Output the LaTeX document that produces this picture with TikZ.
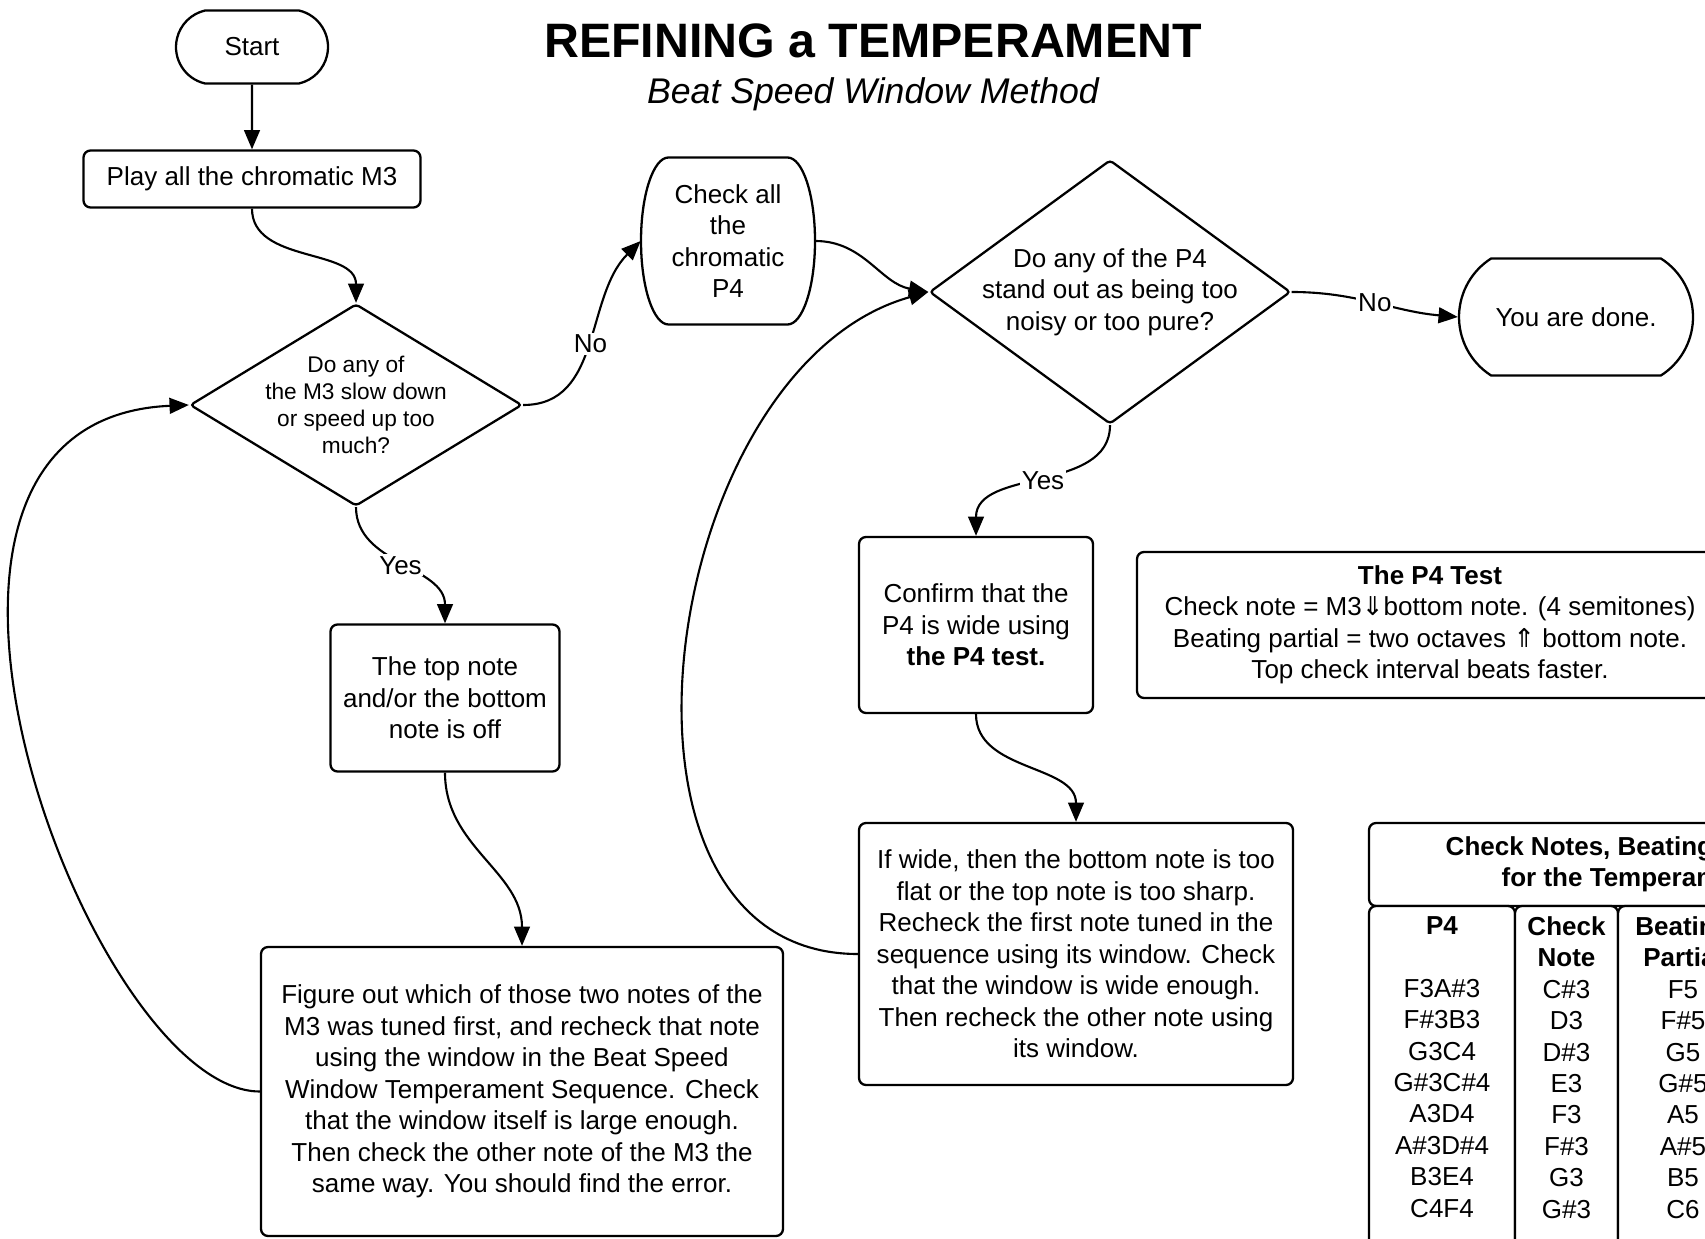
\documentclass[tikz,border=0pt]{standalone}
\usepackage{fontspec}
\setmainfont{Liberation Sans}
\newfontfamily\arrowfont{DejaVu Sans}
\usetikzlibrary{arrows.meta}
\usetikzlibrary{shapes.geometric}
\usetikzlibrary{shapes.misc}
\pgfdeclarelayer{edgelayer}
\pgfdeclarelayer{nodelayer}
\pgfsetlayers{edgelayer,nodelayer,main}
\tikzstyle{none}=[inner sep=0pt]
\tikzstyle{heading}=[inner sep=0pt,font=\fontsize{27.5}{33}\selectfont\bfseries]
\tikzstyle{subheading}=[inner sep=0pt,font=\fontsize{20.3}{24}\selectfont\itshape]
\tikzstyle{terminal}=[rounded rectangle,draw=black,fill=white,line width=1.3pt,inner xsep=0pt,align=center]
\tikzstyle{process}=[rectangle,rounded corners=4pt,draw=black,fill=white,line width=1.3pt,align=center]
\tikzstyle{outline}=[draw=black,fill=white,line width=1.3pt]
\tikzstyle{decision}=[diamond,rounded corners=2pt,draw=black,fill=white,line width=1.3pt,inner sep=-0.3cm,align=center]
\tikzstyle{cell}=[inner sep=0pt,align=center]
\tikzstyle{transition}=[-{Triangle[length=11pt,width=9pt]},draw=black,line width=1.2pt]
\tikzstyle{answer}=[fill=white,inner sep=1pt]

\begin{document}
\begin{tikzpicture}[font=\fontsize{14.8}{17.9}\selectfont]
	\useasboundingbox (0,0) rectangle (34.1,-24.78);
	\begin{pgfonlayer}{nodelayer}
		\node [style=heading] (0) at (17.46,-0.82) {REFINING a TEMPERAMENT};
		\node [style=subheading] (1) at (17.46,-1.88) {Beat Speed Window Method};
		\node [style=terminal, rounded rectangle arc length=154, minimum width=3.04cm, minimum height=1.46cm] (2) at (5.04,-0.94) {Start};
		\node [style=process, minimum width=6.74cm, minimum height=1.14cm] (3) at (5.04,-3.58) {Play all the chromatic M3};
		\node [style=decision, aspect=1.64, minimum width=6.64cm, minimum height=4.04cm, font=\fontsize{12.9}{15.4}\selectfont] (4) at (7.12,-8.10) {Do any of\\the M3 slow down\\or speed up too\\much?};
		\draw [style=outline] (13.37,-3.15) -- (15.75,-3.15) arc[start angle=90, end angle=-90, x radius=0.55cm, y radius=1.67cm] -- (13.37,-6.49) arc[start angle=270, end angle=90, x radius=0.55cm, y radius=1.67cm] -- cycle;
		\node [style=none, align=center, minimum width=3.48cm, minimum height=3.34cm] (5) at (14.56,-4.82) {Check all\\the\\chromatic\\P4};
		\node [style=decision, aspect=1.37, minimum width=7.22cm, minimum height=5.28cm] (6) at (22.20,-5.84) {Do any of the P4\\stand out as being too\\noisy or too pure?};
		\node [style=terminal, rounded rectangle arc length=115, minimum width=4.68cm, minimum height=2.34cm] (7) at (31.52,-6.34) {You are done.};
		\node [style=process, minimum width=4.68cm, minimum height=3.52cm] (8) at (19.52,-12.50) {Confirm that the\\P4 is wide using\\\textbf{the P4 test.}};
		\node [style=process, minimum width=11.72cm, minimum height=2.92cm] (9) at (28.60,-12.50) {\textbf{The P4 Test}\\Check note = M3{\arrowfont ⇓}bottom note. (4 semitones)\\Beating partial = two octaves {\arrowfont ⇑} bottom note.\\Top check interval beats faster.};
		\node [style=process, minimum width=4.58cm, minimum height=2.94cm] (10) at (8.90,-13.96) {The top note\\and/or the bottom\\note is off};
		\node [style=process, minimum width=8.68cm, minimum height=5.24cm] (11) at (21.52,-19.08) {If wide, then the bottom note is too\\flat or the top note is too sharp.\\Recheck the first note tuned in the\\sequence using its window. Check\\that the window is wide enough.\\Then recheck the other note using\\its window.};
		\node [style=process, minimum width=10.44cm, minimum height=5.78cm] (12) at (10.44,-21.83) {Figure out which of those two notes of the\\M3 was tuned first, and recheck that note\\using the window in the Beat Speed\\Window Temperament Sequence. Check\\that the window itself is large enough.\\Then check the other note of the M3 the\\same way. You should find the error.};
		\node [style=process, minimum width=10.44cm, minimum height=1.66cm, font=\fontsize{14.8}{17.9}\selectfont\bfseries] (13) at (32.60,-17.29) {Check Notes, Beating Partials\\for the Temperament};
		\node [style=process, minimum width=2.92cm, minimum height=7.68cm] (14) at (28.84,-21.96) {};
		\node [style=process, minimum width=2.06cm, minimum height=7.68cm] (15) at (31.33,-21.96) {};
		\node [style=process, minimum width=2.60cm, minimum height=7.68cm] (16) at (33.66,-21.96) {};
		\node [style=cell, anchor=north] (17) at (28.84,-18.32) {\textbf{P4}\\~\\F3A\#3\\F\#3B3\\G3C4\\G\#3C\#4\\A3D4\\A\#3D\#4\\B3E4\\C4F4};
		\node [style=cell, anchor=north] (18) at (31.33,-18.32) {\textbf{Check}\\\textbf{Note}\\C\#3\\D3\\D\#3\\E3\\F3\\F\#3\\G3\\G\#3};
		\node [style=cell, anchor=north] (19) at (33.66,-18.32) {\textbf{Beating}\\\textbf{Partial}\\F5\\F\#5\\G5\\G\#5\\A5\\A\#5\\B5\\C6};
	\end{pgfonlayer}
	\begin{pgfonlayer}{edgelayer}
		\draw [style=transition] (2) to (3);
		\draw [style=transition] (3.south) to [out=-90, in=90] (4.north);
		\draw [style=transition] (4.east) to [out=0, in=225] node[style=answer]{No} (5.west);
		\draw [style=transition] (5.east) to [out=0, in=170] (6.west);
		\draw [style=transition] (6.east) to [out=0, in=175] node[style=answer]{No} (7.west);
		\draw [style=transition] (6.south) to [out=-90, in=90] node[style=answer]{Yes} (8.north);
		\draw [style=transition] (8.south) to [out=-90, in=90] (11.north);
		\draw [style=transition] (11.west) .. controls +(-5.6,0) and +(-5.4,-1.5) .. (6.west);
		\draw [style=transition] (4.south) to [out=-90, in=90] node[style=answer]{Yes} (10.north);
		\draw [style=transition] (10.south) to [out=-90, in=90] (12.north);
		\draw [style=transition] (12.west) .. controls +(-3.4,0) and +(-7.0,-0.3) .. (4.west);
	\end{pgfonlayer}
\end{tikzpicture}
\end{document}
